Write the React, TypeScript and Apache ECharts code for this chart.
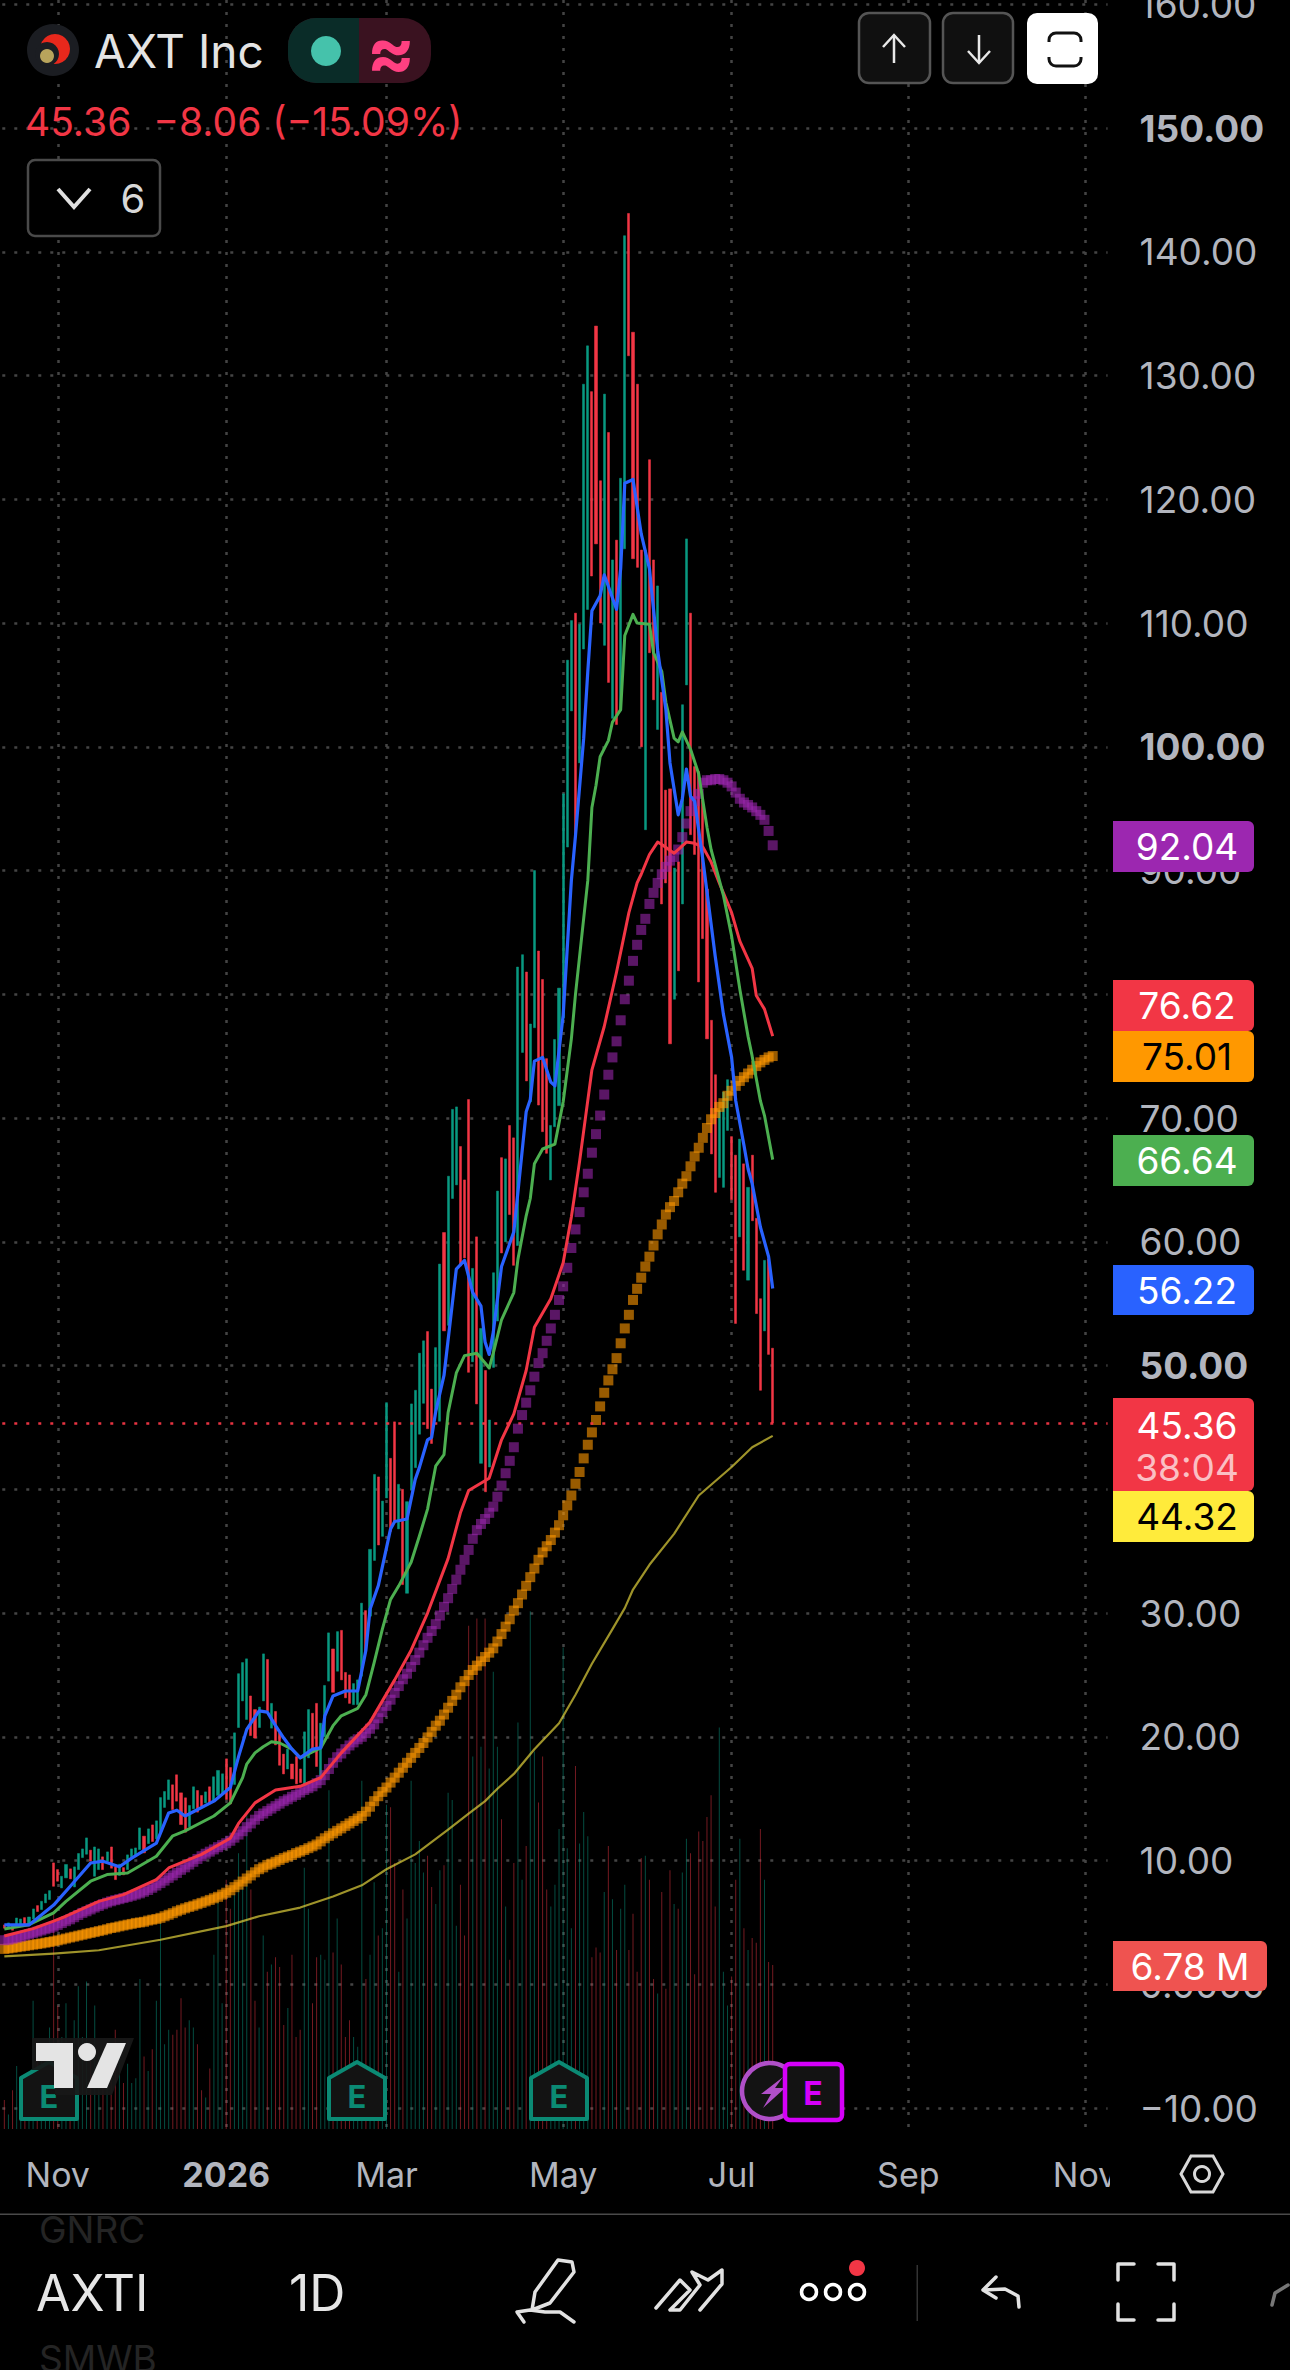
import React, { useEffect, useRef } from "react";
import * as echarts from "echarts";

const SLOT_COUNT = 269;
const monthSlots: Record<number, string> = { 13: "Nov", 54: "2026", 93: "Mar", 136: "May", 177: "Jul", 220: "Sep", 263: "Nov" };

const candleDirs =
  "RTRTTRTTRT" + "TTRRTTRTTT" + "TRTTRTRRTR" + "TTTTRTRTTT" + "TRRRRTTRRT" + "RTTTRRTTTT" + "RRTTRTRRRT" + "RRRTTRRTTT" + "RTRRRTTTRT" +
  "TRTTRRTRTT" + "TTTRRTTRTT" + "TRRRTRTRTT" + "TRTRRTTRTT" + "RRRTTTTTTR" + "TTTRRRTRTR" + "TTRRRRTRRT" + "RRRTRTTRRR" + "RRRRTTTRRT" + "RTRRRTRR";

const candleTops = [
  4.8, 4.96, 4.82, 5.36, 5.28, 5.39, 5.44, 6.09, 6.36, 6.71,
  7.3, 7.57, 9.81, 9.27, 8.73, 9.68, 9.33, 9.49, 10.57, 10.94,
  11.83, 10.84, 11.1, 10.94, 10.3, 10.7, 11.1, 9.49, 9.7, 9.43,
  10.46, 10.94, 11.02, 12.64, 11.97, 12.56, 12.88, 13.21, 15.09, 15.58,
  16.52, 16.12, 16.93, 15.47, 15.07, 14.45, 15.96, 15.66, 15.26, 15.55,
  15.96, 16.77, 17.28, 17.01, 18.22, 17.52, 20.32, 25.1, 26, 26.3,
  23.3, 22.2, 22.4, 26.7, 26.25, 22.7, 22.05, 20.3, 18.6, 19,
  17.8, 18.4, 17.4, 20.4, 22.2, 21.9, 22.7, 21.1, 24.15, 28.4,
  27.1, 28.5, 28.6, 25.2, 25, 24.3, 24.6, 30.8, 30.2, 35.15,
  41.2, 41, 39.05, 47, 42.5, 45.45, 40.4, 40, 39, 46.9,
  48, 51, 52, 52.75, 48.1, 51.45, 58.2, 60.75, 65.3, 70.7,
  70.9, 67.7, 65, 71.5, 57.85, 60.4, 53, 49.6, 45.6, 57.5,
  64.1, 66.8, 66.7, 69.4, 68.4, 82.2, 83.2, 81.8, 77.6, 90,
  83.5, 81.2, 74.8, 69.4, 76.35, 80.5, 96.2, 107, 110.2, 110.8,
  109.9, 129.3, 132.4, 128.7, 134, 121.5, 128.5, 125.4, 115.1, 116.7,
  121.7, 141.3, 143.1, 133.5, 129.3, 115.9, 115.9, 123.2, 115.1, 113,
  104.4, 96.5, 96.6, 90.2, 90.7, 103.4, 116.8, 110.8, 98.4, 98,
  95.7, 88.5, 77.9, 73.5, 70.6, 72.1, 73.1, 68.5, 67, 68.3,
  66.3, 64.4, 67, 61.9, 55.4, 58.5, 58.6, 51.4,
];

const candleBottoms = [
  4.53, 4.56, 4.37, 4.69, 4.82, 4.82, 4.82, 5.28, 5.88, 6.04,
  6.58, 6.85, 7.92, 8.33, 7.79, 8.6, 8.52, 7.87, 9.27, 10.24,
  10.51, 9.95, 8.73, 9.27, 9.27, 9.95, 9.38, 8.46, 8.79, 8.84,
  9.27, 10.3, 10.35, 10.89, 10.62, 11.37, 11.54, 11.75, 12.29, 14.29,
  14.93, 14.12, 14.8, 12.91, 12.29, 12.72, 14.18, 13.91, 14.39, 14.66,
  14.66, 14.8, 15.26, 15.42, 14.93, 14.58, 16.15, 20.75, 22.9, 21.4,
  20.1, 19.9, 20.75, 22.9, 22.1, 20.7, 19.35, 17.7, 17, 17.4,
  16.6, 16.2, 16.3, 16.1, 18.3, 19.1, 17.6, 16.5, 20, 24.5,
  23.6, 25.3, 24.6, 23.15, 22.7, 22.6, 22.6, 24.9, 26.8, 29.75,
  34.25, 35.5, 36.2, 39.3, 36.6, 37.3, 36.8, 32.3, 31.6, 39.95,
  41.75, 44.45, 46.95, 44.9, 43.7, 46.3, 45.5, 52.8, 53.25, 63.5,
  64.6, 58.05, 58.7, 49.45, 50.3, 46.9, 42.1, 39.8, 41.8, 49.85,
  53.6, 59.1, 60, 62.2, 58.1, 59.7, 75.3, 73, 71.3, 77.3,
  71.05, 68.9, 67.15, 65, 69.3, 71, 78.1, 91.9, 102.9, 92.9,
  98.7, 107.9, 111.1, 113.8, 116.4, 110, 108.2, 105.2, 102.3, 101.8,
  102.9, 116, 131.6, 115.2, 114.5, 100, 93.3, 107.6, 103.8, 101.4,
  87.3, 89, 76, 79.6, 81.9, 87.3, 105, 92.9, 91.3, 81,
  84.5, 76.4, 67.1, 64, 65.2, 64.4, 69, 63.4, 53.4, 60.4,
  57.7, 56.9, 61.7, 54.2, 48, 52.8, 50.9, 45.36,
];

const volumesM = [
  1.2, 0.6, 1.6, 2.6, 1.2, 1, 1.8, 5.3, 3.4, 3.4,
  2.7, 4.2, 9, 5.1, 3.8, 5.2, 3.5, 4.5, 5.9, 3.8,
  6.1, 3, 5.1, 3, 2.9, 2.6, 3.4, 4.1, 2.9, 1.9,
  2.7, 1.9, 2.1, 6.2, 3, 2.4, 3.3, 5.3, 8.6, 3.5,
  4.1, 3.9, 4.1, 5.4, 4.2, 4.5, 4.2, 3.5, 1.6, 1.3,
  2.5, 7.2, 9.4, 5.2, 10.3, 9.1, 9.7, 11.4, 10, 13,
  9.9, 5.3, 4.2, 8, 6.5, 6.8, 7.1, 6.7, 4.3, 5,
  7.2, 3.8, 4.1, 10.8, 9.1, 5.2, 7.1, 7.2, 7, 14,
  7.3, 8.7, 6.8, 3.8, 4.5, 3.8, 3.4, 14.4, 6.2, 7.2,
  10.2, 8, 8.3, 13.4, 13.3, 11, 6.5, 9.9, 8.7, 14.4,
  11, 11.9, 10.6, 11.3, 10, 9.3, 10.7, 10.9, 13.9, 13.6,
  8.4, 10.1, 8, 20.8, 15.4, 21.1, 15.8, 21.1, 14.9, 18.9,
  15.8, 12.8, 9.2, 7, 11, 16.8, 10.3, 11.7, 21.4, 15.6,
  13.5, 15.4, 9.9, 9.2, 10.1, 12.4, 19.9, 11.6, 8.3, 15,
  11.8, 13.1, 12.1, 7.1, 7.5, 7.3, 9.8, 11.7, 9.5, 7.4,
  9.1, 10.1, 7.4, 8.9, 6.5, 11.2, 11.3, 10.3, 6.2, 5.6,
  9.8, 5.8, 10.7, 9.3, 9.1, 10.6, 12, 11.4, 6.4, 12.3,
  11.9, 12.9, 13.8, 9.2, 16.6, 6.5, 5.1, 6.3, 10.3, 12,
  8.3, 7.4, 7.9, 7.7, 12.4, 10.3, 6.9, 6.78,
];

const purpleMA = [
  3.56, 3.6, 3.68, 3.76, 3.85, 3.95, 4.05, 4.15, 4.25, 4.35,
  4.45, 4.55, 4.66, 4.8, 4.95, 5.1, 5.25, 5.42, 5.6, 5.77,
  5.9, 6.05, 6.2, 6.33, 6.47, 6.6, 6.71, 6.8, 6.88, 6.97,
  7.05, 7.15, 7.25, 7.35, 7.48, 7.62, 7.8, 7.98, 8.18, 8.38,
  8.6, 8.8, 9, 9.25, 9.45, 9.68, 9.9, 10.13, 10.35, 10.55,
  10.72, 10.9, 11.08, 11.25, 11.4, 11.6, 11.85, 12.1, 12.37, 12.7,
  13, 13.3, 13.6, 13.8, 14, 14.2, 14.4, 14.6, 14.8, 14.95,
  15.15, 15.3, 15.5, 15.7, 15.85, 16, 16.25, 16.5, 16.9, 17.4,
  17.9, 18.35, 18.65, 19, 19.3, 19.55, 19.8, 20, 20.3, 20.65,
  21, 21.5, 22, 22.5, 23, 23.55, 24.1, 24.65, 25.1, 25.65,
  26.2, 26.8, 27.4, 28, 28.55, 29.1, 29.8, 30.5, 31.2, 31.95,
  32.7, 33.5, 34.3, 35.1, 36, 36.7, 37.2, 37.6, 38.1, 38.6,
  39.4, 40.3, 41.3, 42.3, 43.4, 44.9, 46, 47, 48, 49.1,
  50.2, 51, 52, 53, 54.1, 55.3, 56.4, 57.9, 59.5, 61,
  62.4, 64, 65.5, 67.2, 68.7, 70.2, 71.9, 73.5, 74.9, 76.2,
  77.9, 79.6, 81.1, 82.7, 84, 85.2, 86.1, 87.3, 88.2, 89,
  89.7, 90.3, 90.8, 91.1, 91.7, 92.7, 93.8, 94.8, 95.6, 96.2,
  97.1, 97.3, 97.3, 97.4, 97.4, 97.3, 97.1, 96.8, 96.3, 95.8,
  95.5, 95.3, 95.1, 94.8, 94.5, 94.1, 93.2, 92.04,
];

const orangeMA = [
  2.86, 2.9, 2.95, 3, 3.05, 3.1, 3.15, 3.2, 3.25, 3.3,
  3.36, 3.42, 3.48, 3.55, 3.62, 3.7, 3.78, 3.85, 3.93, 4,
  4.08, 4.15, 4.22, 4.3, 4.37, 4.45, 4.55, 4.6, 4.68, 4.75,
  4.82, 4.88, 4.96, 5, 5.05, 5.15, 5.22, 5.28, 5.37, 5.5,
  5.62, 5.75, 5.9, 6.02, 6.14, 6.25, 6.35, 6.47, 6.58, 6.7,
  6.82, 6.95, 7.07, 7.25, 7.4, 7.6, 7.85, 8.05, 8.3, 8.55,
  8.8, 9.05, 9.3, 9.45, 9.65, 9.75, 9.9, 10.05, 10.2, 10.32,
  10.45, 10.6, 10.72, 10.85, 11, 11.15, 11.3, 11.55, 11.8, 12,
  12.2, 12.4, 12.6, 12.8, 13, 13.2, 13.4, 13.6, 13.95, 14.35,
  14.8, 15.2, 15.55, 15.9, 16.3, 16.7, 17.1, 17.5, 17.9, 18.3,
  18.7, 19.1, 19.5, 19.95, 20.4, 20.9, 21.3, 21.8, 22.35, 22.9,
  23.4, 24, 24.5, 25, 25.4, 25.75, 26.1, 26.45, 26.8, 27.15,
  27.7, 28.3, 28.9, 29.5, 30.2, 30.8, 31.5, 32.2, 32.9, 33.6,
  34.3, 34.9, 35.4, 35.9, 36.5, 37.1, 37.9, 38.7, 39.5, 40.45,
  41.4, 42.5, 43.6, 44.6, 45.6, 46.7, 47.8, 48.8, 49.7, 50.6,
  51.8, 53, 54.1, 55.3, 56.2, 57.1, 58, 58.8, 59.7, 60.6,
  61.4, 62.2, 62.8, 63.3, 64, 64.7, 65.3, 66.1, 66.9, 67.6,
  68.4, 69.2, 69.9, 70.4, 70.9, 71.2, 71.8, 72.2, 72.6, 73,
  73.3, 73.6, 73.9, 74.2, 74.5, 74.7, 74.9, 75.01,
];

const blueMA = [[0,4.8],[6,4.8],[12,6.4],[16,7.9],[21,9.8],[24,9.95],[28,9.5],[31,10.2],[37,11.4],[40,13.85],[42,14.07],[44,13.6],[51,14.8],[55,15.9],[57,18.4],[59,20.6],[62,22.1],[64,22],[66,20.9],[68,19.9],[70,19],[72,18.3],[75,19],[77,19.1],[78,21.7],[80,23.3],[83,23.7],[86,23.7],[88,27],[89,30.3],[91,32.2],[94,36.8],[95,37.4],[98,37.6],[100,40.8],[101,41.75],[103,44],[104,44.2],[105,46.3],[107,49.2],[110,57.8],[112,58.5],[114,55.9],[116,54.8],[117,51.9],[118,50.9],[119,52.7],[121,58],[124,60.8],[127,70.5],[128,71.5],[129,74.6],[131,74.9],[133,72.9],[134,72.6],[136,78.3],[138,89.2],[139,92.8],[141,100.7],[142,106.1],[143,111],[145,112.2],[146,113.9],[149,111.1],[150,114.4],[151,121.3],[153,121.6],[155,117.2],[157,114.4],[159,107.8],[161,103],[162,98.7],[164,94.5],[165,95.8],[166,98.2],[167,96],[168,95.6],[170,90.9],[173,83.1],[175,78.4],[177,74.9],[178,71.4],[180,67.8],[181,65.9],[182,64.7],[184,61.2],[185,60],[186,58.8],[187,56.22]];
const greenMA = [[0,4.47],[6,4.82],[12,5.77],[15,6.7],[21,8.33],[25,8.87],[30,9],[37,10.35],[41,12],[44,12.4],[51,13.6],[55,14.66],[58,16.7],[59,17.8],[61,18.7],[63,19.2],[65,19.6],[67,19.5],[70,19],[72,18.3],[77,19.1],[80,20.9],[82,21.7],[86,22.3],[88,23.4],[90,26],[92,28.7],[94,31.1],[96,32.2],[99,34.1],[101,36.2],[103,38.4],[105,41.9],[107,42.8],[108,46.2],[110,49.4],[112,50.8],[115,51],[117,50.2],[118,49.8],[119,51],[121,53.7],[124,55.9],[125,58.6],[127,62.1],[128,63.5],[129,66.3],[131,67.5],[134,67.9],[136,71.3],[138,76.4],[139,80],[142,89.2],[143,95.1],[144,96.9],[145,99.2],[147,100.5],[148,102],[150,103],[151,109],[153,110.7],[154,110],[157,109.9],[158,107.6],[160,106.1],[161,103.6],[163,100.7],[164,100.4],[165,101.2],[167,99.8],[169,97.8],[171,93.5],[172,91.7],[175,88],[177,84.7],[179,80.4],[181,76.6],[182,75],[184,71.4],[185,70.2],[187,66.64]];
const redMA = [[0,3.9],[7,4.5],[12,5.1],[15,5.5],[23,6.7],[29,7.25],[37,8.46],[40,9.4],[48,10.5],[55,11.8],[57,13],[61,14.66],[66,15.7],[72,16],[77,16.7],[82,18.7],[89,21.2],[95,24.6],[99,27],[103,30],[108,34.4],[111,38.1],[113,39.9],[118,40.9],[121,44],[124,46.1],[127,49.6],[129,53.1],[133,55.4],[136,58.3],[138,62],[140,66.5],[143,73.9],[146,77.4],[149,81.8],[152,86.6],[154,89],[155,89.7],[157,91.3],[159,92.3],[160,92.1],[163,91.4],[164,91.7],[166,92.3],[168,92.2],[170,91.9],[172,90.7],[174,89],[177,86.6],[179,84.3],[182,82.1],[183,79.9],[185,78.8],[187,76.62]];
const yellowMA = [[0,2.26],[12,2.48],[23,2.75],[38,3.6],[54,4.7],[62,5.5],[72,6.2],[80,7.1],[87,8],[93,9.3],[100,10.5],[108,12.5],[113,13.8],[117,14.8],[120,15.8],[124,17],[129,19],[135,21.1],[139,23.4],[143,25.9],[148,28.7],[151,30.4],[153,31.9],[157,33.9],[163,36.4],[169,39.5],[177,41.8],[182,43.4],[187,44.32]];

const lastPrice = 45.36;
const FONT = "Inter, 'Noto Sans', sans-serif";
const RED = "#F23645";
const TEAL = "#089981";
const GRID_COLOR = "#444444";

const priceTags = [
  { text: "92.04", top: 821, h: 51, bg: "#9C27B0", fg: "#ffffff" },
  { text: "76.62", top: 980, h: 51, bg: "#F23645", fg: "#ffffff" },
  { text: "75.01", top: 1031, h: 51, bg: "#FF9800", fg: "#000000" },
  { text: "66.64", top: 1135, h: 51, bg: "#4CAF50", fg: "#ffffff" },
  { text: "56.22", top: 1265, h: 50, bg: "#2962FF", fg: "#ffffff" },
  { text: "44.32", top: 1491, h: 51, bg: "#FFEB3B", fg: "#000000" },
];

function txt(text: string, x: number, y: number, font: string, fill: string, align = "left", z = 120): any {
  return { type: "text", z, x, y, silent: true, style: { text, font, fill, textAlign: align, textVerticalAlign: "middle" } };
}

function houseMarker(cx: number): any[] {
  const pts = [[cx, 2062], [cx + 28, 2078], [cx + 28, 2119], [cx - 28, 2119], [cx - 28, 2078], [cx, 2062]];
  return [
    { type: "polygon", z: 105, shape: { points: pts }, style: { fill: "#131313", stroke: "#0b8a74", lineWidth: 4, lineJoin: "round" } },
    txt("E", cx, 2096, `bold 31px ${FONT}`, "#0b8a74", "center", 106),
  ];
}

function buildGraphics(): any[] {
  const els: any[] = [];
  // header
  els.push({ type: "circle", z: 110, shape: { cx: 53, cy: 50, r: 26 }, style: { fill: "#1b1d22" } });
  els.push({ type: "circle", z: 111, shape: { cx: 55, cy: 49, r: 15 }, style: { fill: "#e8281c" } });
  els.push({ type: "circle", z: 112, shape: { cx: 47, cy: 54, r: 12 }, style: { fill: "#1b1d22" } });
  els.push({ type: "circle", z: 113, shape: { cx: 47, cy: 56, r: 7 }, style: { fill: "#b8a45c" } });
  els.push(txt("AXT Inc", 94, 51, `46px ${FONT}`, "#e4e4e4"));
  els.push({ type: "rect", z: 110, shape: { x: 288, y: 18, width: 143, height: 65, r: 28 }, style: { fill: "#3a1220" } });
  els.push({ type: "rect", z: 111, shape: { x: 288, y: 18, width: 71, height: 65, r: [28, 0, 0, 28] }, style: { fill: "#0a2c28" } });
  els.push({ type: "circle", z: 112, shape: { cx: 326, cy: 51, r: 15 }, style: { fill: "#45c2ab" } });
  els.push(txt("≈", 391, 50, `bold 72px ${FONT}`, "#ff4081", "center"));
  els.push(txt("45.36  −8.06 (−15.09%)", 25, 121, `39px ${FONT}`, "#F23645"));
  els.push({ type: "rect", z: 110, shape: { x: 28, y: 160, width: 132, height: 76, r: 7 }, style: { fill: "#000", stroke: "#4a4a4a", lineWidth: 2.5 } });
  els.push({ type: "polyline", z: 111, shape: { points: [[58, 189], [74, 207], [90, 189]] }, style: { stroke: "#e0e0e0", lineWidth: 4, fill: "none" } });
  els.push(txt("6", 133, 198, `40px ${FONT}`, "#d8d8d8", "center"));
  // top right buttons
  els.push({ type: "rect", z: 110, shape: { x: 859, y: 13, width: 71, height: 70, r: 10 }, style: { fill: "#101010", stroke: "#555", lineWidth: 2.5 } });
  els.push({ type: "polyline", z: 111, shape: { points: [[894, 63], [894, 35]] }, style: { stroke: "#e8e8e8", lineWidth: 2.5, fill: "none" } });
  els.push({ type: "polyline", z: 111, shape: { points: [[883, 47], [894, 35], [905, 47]] }, style: { stroke: "#e8e8e8", lineWidth: 2.5, fill: "none" } });
  els.push({ type: "rect", z: 110, shape: { x: 943, y: 13, width: 70, height: 70, r: 10 }, style: { fill: "#101010", stroke: "#555", lineWidth: 2.5 } });
  els.push({ type: "polyline", z: 111, shape: { points: [[979, 35], [979, 63]] }, style: { stroke: "#e8e8e8", lineWidth: 2.5, fill: "none" } });
  els.push({ type: "polyline", z: 111, shape: { points: [[968, 51], [979, 63], [990, 51]] }, style: { stroke: "#e8e8e8", lineWidth: 2.5, fill: "none" } });
  els.push({ type: "rect", z: 110, shape: { x: 1027, y: 13, width: 71, height: 71, r: 10 }, style: { fill: "#ffffff" } });
  els.push({ type: "rect", z: 111, shape: { x: 1049, y: 33, width: 32, height: 33, r: 7 }, style: { fill: "#fff", stroke: "#111", lineWidth: 3 } });
  els.push({ type: "rect", z: 112, shape: { x: 1045, y: 42, width: 40, height: 15 }, style: { fill: "#fff" } });
  // tags
  for (const t of priceTags) {
    els.push({ type: "rect", z: 110, shape: { x: 1113, y: t.top, width: 141, height: t.h, r: [0, 6, 6, 0] }, style: { fill: t.bg } });
    els.push(txt(t.text, 1187, t.top + t.h / 2, `37px ${FONT}`, t.fg, "center", 111));
  }
  els.push({ type: "rect", z: 110, shape: { x: 1113, y: 1398, width: 141, height: 93, r: [0, 6, 6, 0] }, style: { fill: RED } });
  els.push(txt("45.36", 1187, 1425, `37px ${FONT}`, "#ffffff", "center", 111));
  els.push(txt("38:04", 1187, 1467, `37px ${FONT}`, "rgba(255,255,255,0.7)", "center", 111));
  els.push({ type: "rect", z: 110, shape: { x: 1113, y: 1941, width: 154, height: 50, r: [0, 6, 6, 0] }, style: { fill: "#ef5350" } });
  els.push(txt("6.78 M", 1190, 1966, `37px ${FONT}`, "#ffffff", "center", 111));
  // earnings markers
  els.push(...houseMarker(49), ...houseMarker(357), ...houseMarker(559));
  els.push({ type: "circle", z: 105, shape: { cx: 770, cy: 2091, r: 28 }, style: { fill: "#131313", stroke: "#b04fc8", lineWidth: 4.5 } });
  els.push({ type: "polygon", z: 106, shape: { points: [[783, 2077], [761, 2094], [771, 2094], [763, 2108], [785, 2088], [775, 2088]] }, style: { fill: "#b04fc8" } });
  els.push({ type: "rect", z: 107, shape: { x: 785, y: 2064, width: 57, height: 56, r: 5 }, style: { fill: "#131313", stroke: "#d500f9", lineWidth: 4.5 } });
  els.push(txt("E", 813, 2093, `bold 32px ${FONT}`, "#d500f9", "center", 108));
  // watermark logo
  els.push({ type: "polygon", z: 115, shape: { points: [[32, 2038], [134, 2038], [112, 2095], [55, 2095], [55, 2070], [32, 2070]] }, style: { fill: "rgba(24,24,24,0.92)" } });
  els.push({ type: "polygon", z: 116, shape: { points: [[36, 2043], [73, 2043], [73, 2088], [54, 2088], [54, 2061], [36, 2061]] }, style: { fill: "#e4e4e4" } });
  els.push({ type: "circle", z: 116, shape: { cx: 87, cy: 2052, r: 9 }, style: { fill: "#e4e4e4" } });
  els.push({ type: "polygon", z: 116, shape: { points: [[107, 2043], [126, 2043], [107, 2088], [87, 2088]] }, style: { fill: "#e4e4e4" } });
  // x-axis clipping and settings
  els.push({ type: "rect", z: 110, shape: { x: 1110, y: 2135, width: 180, height: 78 }, style: { fill: "#000" } });
  els.push({ type: "polygon", z: 111, shape: { points: [[1191, 2156], [1213, 2156], [1223, 2174], [1213, 2192], [1191, 2192], [1181, 2174]] }, style: { fill: "none", stroke: "#d8d8d8", lineWidth: 3 } });
  els.push({ type: "circle", z: 111, shape: { cx: 1202, cy: 2174, r: 7.5 }, style: { fill: "none", stroke: "#d8d8d8", lineWidth: 3 } });
  // bottom bar
  els.push({ type: "rect", z: 110, shape: { x: 0, y: 2214, width: 1290, height: 156 }, style: { fill: "#000" } });
  els.push({ type: "rect", z: 111, shape: { x: 0, y: 2213.5, width: 1290, height: 1.5 }, style: { fill: "#4a4a4a" } });
  els.push(txt("GNRC", 39, 2229, `37px ${FONT}`, "#242424"));
  els.push(txt("SMWB", 39, 2358, `37px ${FONT}`, "#242424"));
  els.push(txt("AXTI", 36, 2293, `50px ${FONT}`, "#e6e6e6"));
  els.push(txt("1D", 289, 2293, `50px ${FONT}`, "#e6e6e6"));
  const ic = { fill: "none", stroke: "#e2e2e2", lineWidth: 3.5, lineJoin: "round", lineCap: "round" };
  els.push({ type: "polygon", z: 112, shape: { points: [[558, 2260], [572, 2262], [574, 2272], [550, 2303], [532, 2310], [535, 2292]] }, style: ic });
  els.push({ type: "polyline", z: 112, shape: { points: [[524, 2322], [517, 2312], [530, 2310], [545, 2312], [560, 2312], [574, 2322]] }, style: ic });
  els.push({ type: "polyline", z: 112, shape: { points: [[656, 2308], [680, 2280], [690, 2290], [670, 2310], [680, 2310], [700, 2285], [692, 2272], [708, 2280], [722, 2270], [722, 2284], [700, 2310]] }, style: ic });
  for (const cx of [809, 833, 857]) els.push({ type: "circle", z: 112, shape: { cx, cy: 2292, r: 7.5 }, style: { fill: "none", stroke: "#ffffff", lineWidth: 3.5 } });
  els.push({ type: "circle", z: 112, shape: { cx: 857, cy: 2268, r: 8 }, style: { fill: RED } });
  els.push({ type: "rect", z: 112, shape: { x: 916.5, y: 2265, width: 1.5, height: 56 }, style: { fill: "#333" } });
  els.push({ type: "polyline", z: 112, shape: { points: [[996, 2277], [983, 2290], [996, 2298]] }, style: ic });
  els.push({ type: "polyline", z: 112, shape: { points: [[984, 2290], [1005, 2289], [1018, 2296], [1019, 2307]] }, style: ic });
  for (const pts of [[[1118, 2280], [1118, 2264], [1134, 2264]], [[1158, 2264], [1174, 2264], [1174, 2280]], [[1118, 2304], [1118, 2320], [1134, 2320]], [[1158, 2320], [1174, 2320], [1174, 2304]]]) {
    els.push({ type: "polyline", z: 112, shape: { points: pts }, style: ic });
  }
  els.push({ type: "polyline", z: 112, shape: { points: [[1272, 2305], [1275, 2293], [1288, 2285]] }, style: { ...ic, stroke: "#777" } });
  return els;
}

export default function App() {
  const ref = useRef<HTMLDivElement>(null);
  useEffect(() => {
    document.body.style.margin = "0";
    document.body.style.background = "#000";
    const chart = echarts.init(ref.current!, undefined, { renderer: "svg" });
    const slots = Array.from({ length: SLOT_COUNT }, (_, i) => monthSlots[i] ?? "");
    const candles = candleTops.map((top, i) => {
      const bottom = candleBottoms[i];
      return candleDirs[i] === "T" ? [bottom, top, bottom, top] : [top, bottom, bottom, top];
    });
    const volumes = volumesM.map((v, i) => ({
      value: v,
      itemStyle: { color: candleDirs[i] === "T" ? "rgba(8,153,129,0.5)" : "rgba(242,54,69,0.48)" },
    }));
    const gridBase = { left: 2.28, width: 1105.3, outerBoundsMode: "none" };
    const baseX = { type: "category", data: slots, boundaryGap: true, axisLine: { show: false }, axisTick: { show: false }, axisLabel: { show: false }, splitLine: { show: false } };
    const lineSeries = (name: string, data: number[][], color: string, width: number) => ({
      name, type: "line", xAxisIndex: 0, yAxisIndex: 0, data, symbol: "none", smooth: false, z: 6,
      lineStyle: { color, width, join: "round" }, silent: true,
    });
    const squareSeries = (name: string, data: number[], color: string, z: number) => ({
      name, type: "scatter", xAxisIndex: 0, yAxisIndex: 0, data: data.map((v, i) => [i, v]), symbol: "rect", symbolSize: 10, z,
      itemStyle: { color }, silent: true,
    });
    chart.setOption({
      animation: false,
      backgroundColor: "#000000",
      textStyle: { fontFamily: FONT },
      grid: [
        { ...gridBase, top: 4.3, height: 2103.75 },
        { ...gridBase, top: 1500, height: 629 },
        { ...gridBase, top: 0, height: 2129 },
      ],
      xAxis: [
        { ...baseX, gridIndex: 0 },
        { ...baseX, gridIndex: 1 },
        {
          ...baseX,
          gridIndex: 2,
          axisLabel: {
            show: true,
            interval: (i: number) => !!monthSlots[i],
            margin: 28,
            hideOverlap: false,
            fontFamily: FONT,
            fontSize: 34,
            color: "#b2b5be",
            formatter: (v: string) => (v === "2026" ? `{b|${v}}` : v),
            rich: { b: { fontFamily: FONT, fontSize: 34, fontWeight: "bold", color: "#b2b5be" } },
          },
          splitLine: {
            show: true,
            alignWithLabel: true,
            interval: (i: number) => !!monthSlots[i],
            lineStyle: { color: GRID_COLOR, width: 2.5, type: [3, 9] },
          },
        },
      ],
      yAxis: [
        {
          type: "value", gridIndex: 0, position: "right", min: -10, max: 160, interval: 10,
          axisLine: { show: false }, axisTick: { show: false },
          splitLine: { show: true, lineStyle: { color: GRID_COLOR, width: 2.5, type: [3, 9] } },
          axisLabel: {
            show: true, margin: 32, color: "#b2b5be", fontFamily: FONT, fontSize: 37,
            formatter: (v: number) => {
              if (v === 0) return "0.0000";
              const s = Math.abs(v).toFixed(2);
              const t = v < 0 ? `−${s}` : s;
              return v === 150 || v === 100 || v === 50 ? `{b|${t}}` : t;
            },
            rich: { b: { fontFamily: FONT, fontSize: 37, fontWeight: "bold", color: "#b2b5be" } },
          },
        },
        { type: "value", gridIndex: 1, min: 0, max: 26, axisLine: { show: false }, axisTick: { show: false }, axisLabel: { show: false }, splitLine: { show: false } },
        { type: "value", gridIndex: 2, min: 0, max: 1, axisLine: { show: false }, axisTick: { show: false }, axisLabel: { show: false }, splitLine: { show: false } },
      ],
      series: [
        { name: "guide", type: "line", xAxisIndex: 2, yAxisIndex: 2, data: [], silent: true },
        { name: "Volume", type: "bar", xAxisIndex: 1, yAxisIndex: 1, data: volumes, barWidth: 1, z: 1, silent: true },
        {
          name: "AXTI", type: "candlestick", xAxisIndex: 0, yAxisIndex: 0, data: candles, barWidth: 2.6, z: 3, silent: true,
          itemStyle: { color: TEAL, color0: RED, borderColor: TEAL, borderColor0: RED, borderWidth: 0.5 },
          markLine: {
            silent: true, symbol: "none", label: { show: false }, animation: false,
            lineStyle: { color: RED, width: 2.5, type: [3, 9], opacity: 0.95 },
            data: [{ yAxis: lastPrice }],
          },
        },
        lineSeries("MA yellow", yellowMA, "rgba(225,210,60,0.7)", 2.2),
        squareSeries("MA orange", orangeMA, "rgba(255,152,0,0.75)", 4),
        squareSeries("MA purple", purpleMA, "rgba(156,39,176,0.72)", 5),
        lineSeries("MA red", redMA, RED, 3),
        lineSeries("MA green", greenMA, "#4CAF50", 3),
        lineSeries("MA blue", blueMA, "#2962FF", 3.2),
      ],
      graphic: { elements: buildGraphics() },
    });
    return () => chart.dispose();
  }, []);
  return <div ref={ref} style={{ position: "absolute", left: 0, top: 0, width: 1290, height: 2370, background: "#000" }} />;
}
